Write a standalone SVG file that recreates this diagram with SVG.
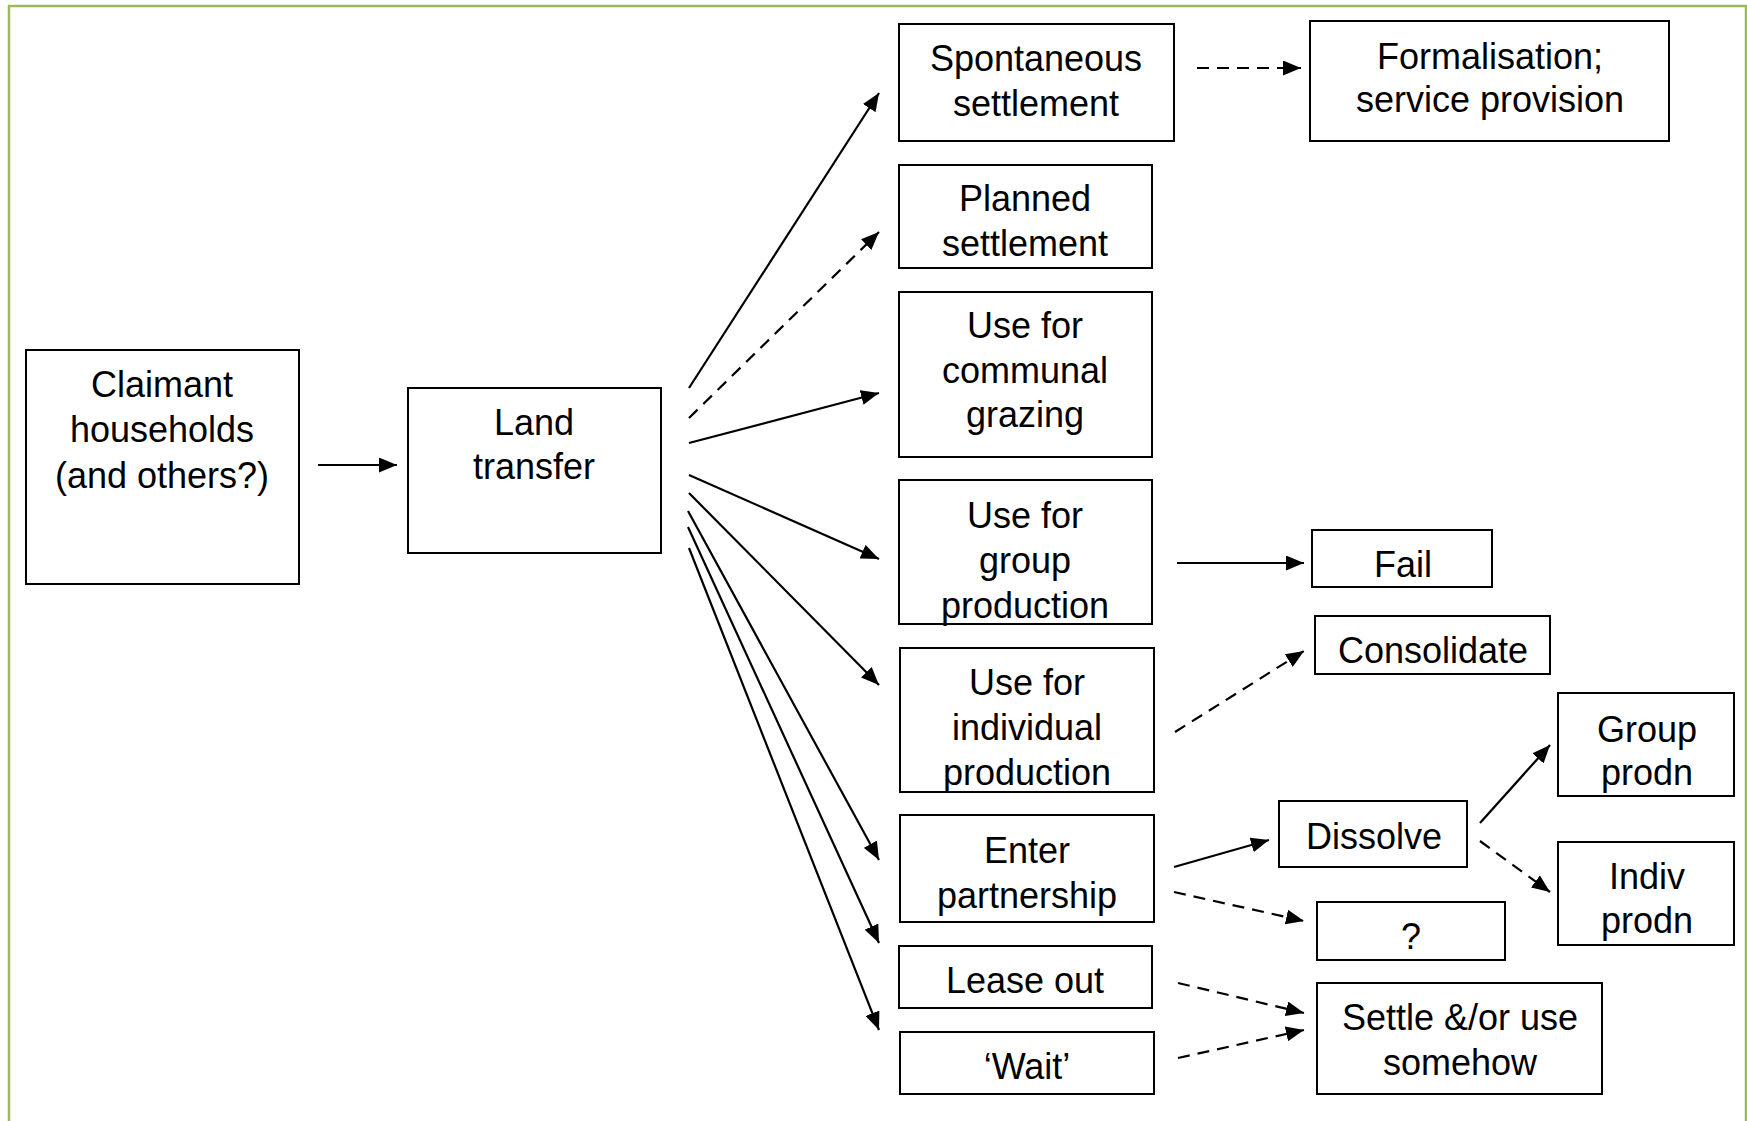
<svg xmlns="http://www.w3.org/2000/svg" width="1747" height="1121" viewBox="0 0 1747 1121">
<style>
.box{fill:#fff;stroke:#000;stroke-width:2}
.t{font-family:"Liberation Sans",Arial,sans-serif;font-size:36px;fill:#000;text-anchor:middle}
.c{stroke:#000;stroke-width:2.2;fill:none;marker-end:url(#ah)}
.d{stroke-dasharray:12,8}
</style>
<defs>
<marker id="ah" markerUnits="userSpaceOnUse" markerWidth="18" markerHeight="15" refX="18" refY="7.5" orient="auto">
<path d="M0,0 L18,7.5 L0,15 z" fill="#000"/>
</marker>
</defs>
<rect x="0" y="0" width="1747" height="1121" fill="#fff"/>
<rect x="9" y="6" width="1737" height="1130" fill="none" stroke="#9BBB59" stroke-width="2.5"/>

<g id="connectors">
<line class="c" x1="318" y1="465" x2="397" y2="465"/>
<line class="c" x1="689" y1="388" x2="879" y2="93"/>
<line class="c d" x1="689" y1="418" x2="879" y2="232"/>
<line class="c" x1="689" y1="443" x2="879" y2="393"/>
<line class="c" x1="689" y1="475" x2="879" y2="559"/>
<line class="c" x1="689" y1="493" x2="879" y2="685"/>
<line class="c" x1="688" y1="511" x2="879" y2="860"/>
<line class="c" x1="688" y1="527" x2="879" y2="943"/>
<line class="c" x1="689" y1="548" x2="879" y2="1030"/>
<line class="c d" x1="1197" y1="68" x2="1301" y2="68"/>
<line class="c" x1="1177" y1="563" x2="1304" y2="563"/>
<line class="c d" x1="1175" y1="732" x2="1304" y2="651"/>
<line class="c" x1="1174" y1="867" x2="1269" y2="840"/>
<line class="c d" x1="1174" y1="892" x2="1304" y2="921"/>
<line class="c" x1="1480" y1="823" x2="1550" y2="745"/>
<line class="c d" x1="1480" y1="841" x2="1550" y2="892"/>
<line class="c d" x1="1178" y1="983" x2="1304" y2="1013"/>
<line class="c d" x1="1178" y1="1058" x2="1304" y2="1030"/>
</g>

<g id="claimant"><rect class="box" x="26" y="350" width="273" height="234"/>
<text class="t" x="162" y="397">Claimant</text><text class="t" x="162" y="442">households</text><text class="t" x="162" y="488">(and others?)</text></g>

<g id="land"><rect class="box" x="408" y="388" width="253" height="165"/>
<text class="t" x="534" y="435">Land</text><text class="t" x="534" y="479">transfer</text></g>

<g id="spontaneous"><rect class="box" x="899" y="24" width="275" height="117"/>
<text class="t" x="1036" y="71">Spontaneous</text><text class="t" x="1036" y="116">settlement</text></g>

<g id="formalisation"><rect class="box" x="1310" y="21" width="359" height="120"/>
<text class="t" x="1490" y="69">Formalisation;</text><text class="t" x="1490" y="112">service provision</text></g>

<g id="planned"><rect class="box" x="899" y="165" width="253" height="103"/>
<text class="t" x="1025" y="211">Planned</text><text class="t" x="1025" y="256">settlement</text></g>

<g id="communal"><rect class="box" x="899" y="292" width="253" height="165"/>
<text class="t" x="1025" y="338">Use for</text><text class="t" x="1025" y="383">communal</text><text class="t" x="1025" y="427">grazing</text></g>

<g id="group"><rect class="box" x="899" y="480" width="253" height="144"/>
<text class="t" x="1025" y="528">Use for</text><text class="t" x="1025" y="573">group</text><text class="t" x="1025" y="618">production</text></g>

<g id="individual"><rect class="box" x="900" y="648" width="254" height="144"/>
<text class="t" x="1027" y="695">Use for</text><text class="t" x="1027" y="740">individual</text><text class="t" x="1027" y="785">production</text></g>

<g id="partnership"><rect class="box" x="900" y="815" width="254" height="107"/>
<text class="t" x="1027" y="863">Enter</text><text class="t" x="1027" y="908">partnership</text></g>

<g id="lease"><rect class="box" x="899" y="946" width="253" height="62"/>
<text class="t" x="1025" y="993">Lease out</text></g>

<g id="wait"><rect class="box" x="900" y="1032" width="254" height="62"/>
<text class="t" x="1027" y="1079">‘Wait’</text></g>

<g id="fail"><rect class="box" x="1312" y="530" width="180" height="57"/>
<text class="t" x="1403" y="577">Fail</text></g>

<g id="consolidate"><rect class="box" x="1315" y="616" width="235" height="58"/>
<text class="t" x="1433" y="663">Consolidate</text></g>

<g id="dissolve"><rect class="box" x="1279" y="801" width="188" height="66"/>
<text class="t" x="1374" y="849">Dissolve</text></g>

<g id="groupprodn"><rect class="box" x="1558" y="693" width="176" height="103"/>
<text class="t" x="1647" y="742">Group</text><text class="t" x="1647" y="785">prodn</text></g>

<g id="indivprodn"><rect class="box" x="1558" y="842" width="176" height="103"/>
<text class="t" x="1647" y="889">Indiv</text><text class="t" x="1647" y="933">prodn</text></g>

<g id="unknown"><rect class="box" x="1317" y="902" width="188" height="58"/>
<text class="t" x="1411" y="949">?</text></g>

<g id="settle"><rect class="box" x="1317" y="983" width="285" height="111"/>
<text class="t" x="1460" y="1030">Settle &amp;/or use</text><text class="t" x="1460" y="1075">somehow</text></g>
</svg>
